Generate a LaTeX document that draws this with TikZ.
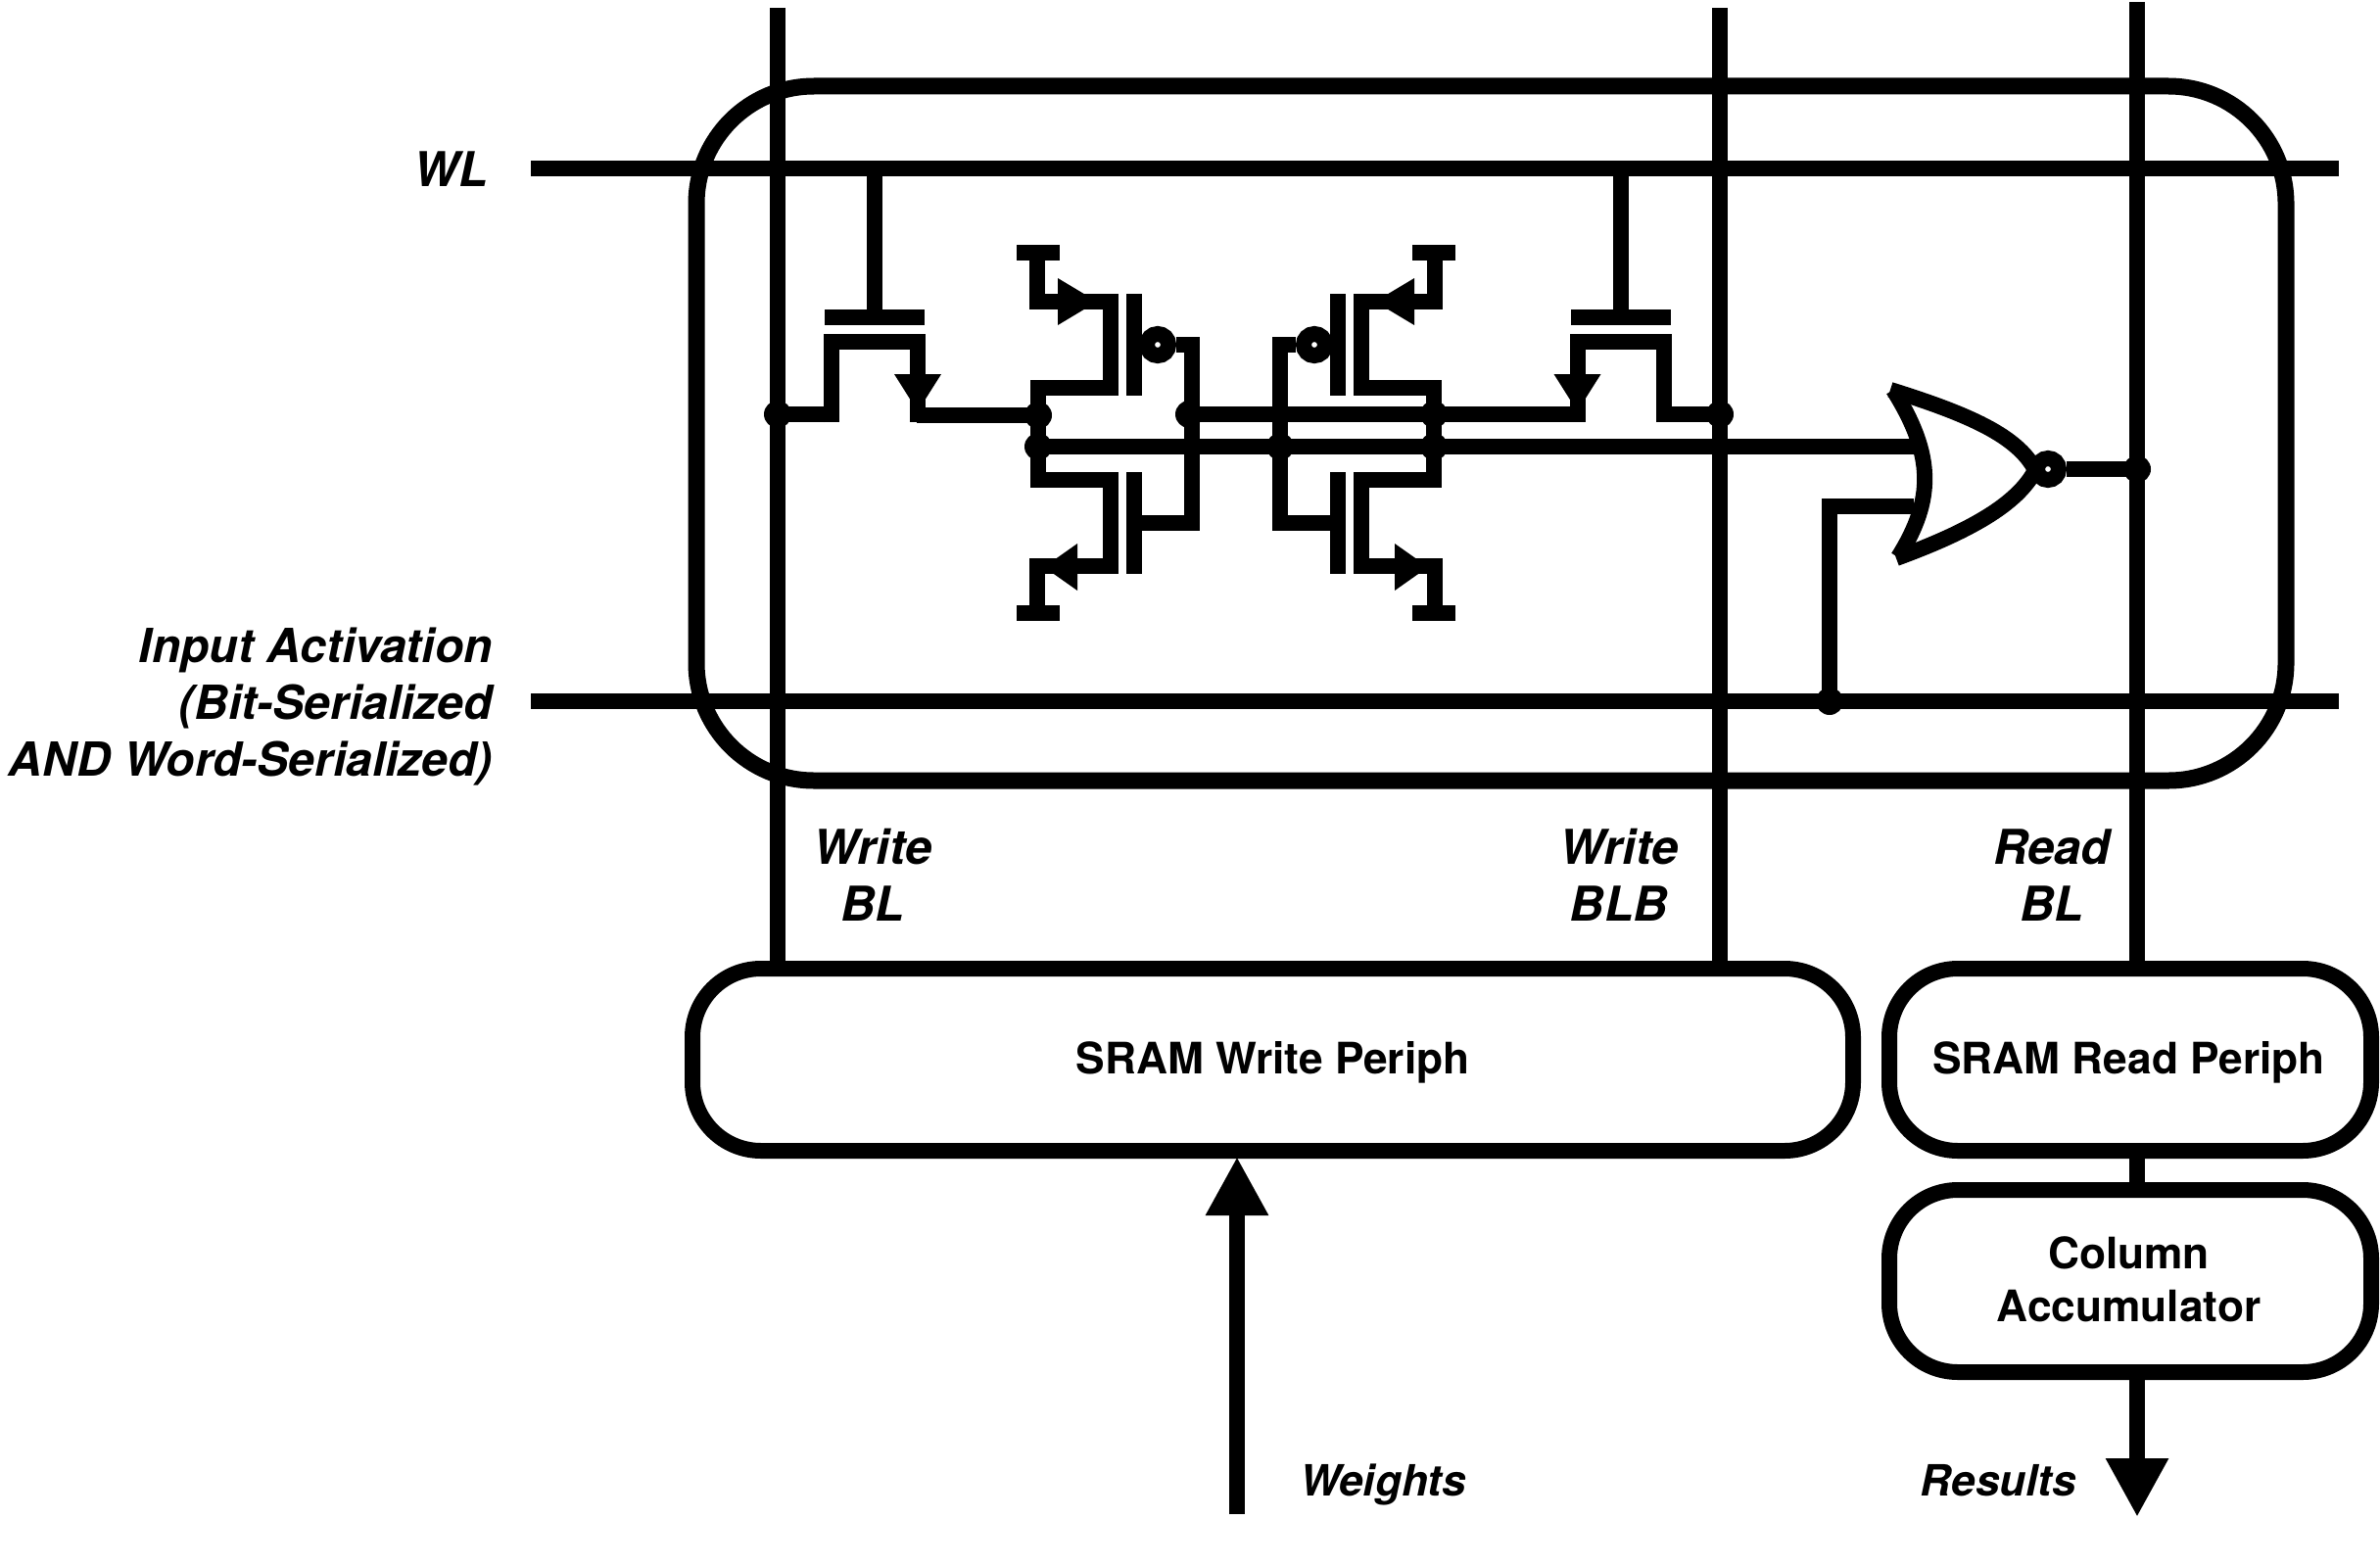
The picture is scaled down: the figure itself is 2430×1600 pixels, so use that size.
\documentclass[tikz,border=0pt]{standalone}
\usepackage{fontspec}
\setmainfont{TeX Gyre Heros}
\usetikzlibrary{arrows.meta}
\tikzset{
	wire/.style={draw, line width=16pt},
	dot/.style={circle, fill, inner sep=0pt, minimum size=28pt},
	bubble/.style={circle, draw, line width=16pt, fill=white, inner sep=0pt, minimum size=22pt},
	periph/.style={draw, line width=16pt, rounded corners=70pt, inner sep=0pt},
	boxtext/.style={inner sep=0pt, align=center, font=\fontsize{44.3}{54}\selectfont\bfseries},
	sig/.style={inner sep=0pt, align=center, font=\fontsize{49}{58}\selectfont\bfseries\itshape},
	iolabel/.style={inner sep=0pt, font=\fontsize{44}{54}\selectfont\bfseries\itshape},
	bighead/.style={-{Triangle[length=60pt, width=60pt]}},
}
\begin{document}
\begin{tikzpicture}[x=1pt, y=-1pt]
	\useasboundingbox (0,0) rectangle (2430,1600);
	\draw[wire, line width=17pt, rounded corners=120pt] (711,88) rectangle (2334,797);
	\node[periph, minimum width=1185pt, minimum height=186pt] (wperiph) at (1299.5,1082) {};
	\node[periph, minimum width=492pt, minimum height=186pt] (rperiph) at (2175,1082) {};
	\node[periph, minimum width=492pt, minimum height=186pt] (accum) at (2175,1308) {};
	\node[boxtext, yshift=-3pt] (wtext) at (wperiph) {SRAM Write Periph};
	\node[boxtext, xshift=-1.5pt, yshift=-3pt] (rtext) at (rperiph) {SRAM Read Periph};
	\node[boxtext, xshift=-1.5pt, yshift=2pt] (atext) at (accum) {Column\\Accumulator};
	\coordinate (wlL) at (542,172);
	\coordinate (wlR) at (2388,172);
	\coordinate (iaL) at (542,716);
	\coordinate (iaR) at (2388,716);
	\coordinate (blT) at (794,8);
	\coordinate (blbT) at (1756,8);
	\coordinate (rblT) at (2182,2);
	\coordinate (wgtB) at (1263,1546);
	\coordinate (resB) at (2182,1549);
	\draw[wire] (wlL) -- (wlR);
	\draw[wire] (iaL) -- (iaR);
	\draw[wire] (blT) -- (blT |- wperiph.north);
	\draw[wire] (blbT) -- (blbT |- wperiph.north);
	\draw[wire] (rblT) -- (rblT |- rperiph.north);
	\draw[wire] (rblT |- rperiph.south) -- (rblT |- accum.north);
	\draw[wire, bighead, shorten >=-2pt] (wgtB) -- (wgtB |- wperiph.south);
	\draw[wire, bighead] (rblT |- accum.south) -- (resB);
	\foreach \cx/\m in {893/1, 1654.5/-1}{
		\begin{scope}[shift={(\cx,0)}, xscale=\m]
			\draw[wire] (0,172) -- (0,324);
			\draw[wire] (-51,324) -- (51,324);
			\draw[wire] (-44,431) -- (-44,349) -- (44,349) -- (44,431);
			\fill (20,382) -- (68,382) -- (44,420) -- cycle;
		\end{scope}
	}
	\foreach \m/\n in {1/l, -1/r}{
		\begin{scope}[shift={(1262,0)}, xscale=\m]
			\draw[wire] (-224,258) -- (-180,258);
			\draw[wire] (-203,258) -- (-203,308) -- (-128,308) -- (-128,396) -- (-202,396) -- (-202,456) -- (-202,490) -- (-128,490) -- (-128,578) -- (-203,578) -- (-203,626);
			\draw[wire] (-224,626) -- (-180,626);
			\fill (-182,284) -- (-142,308) -- (-182,332) -- cycle;
			\fill (-162,555) -- (-196,579) -- (-162,603) -- cycle;
			\draw[wire] (-104,300) -- (-104,404);
			\draw[wire] (-104,482) -- (-104,586);
			\node[bubble] (bub\n) at (-80,352) {};
			\draw[wire] (bub\n) -- (-45,352) -- (-45,534) -- (-104,534);
		\end{scope}
	}
	\node[dot] (qBL) at (794,423) {};
	\node[dot] (qL) at (1060,424) {};
	\node[dot] (qbL) at (1060,456) {};
	\node[dot] (qM) at (1214,423) {};
	\node[dot] (qbM) at (1307,456) {};
	\node[dot] (qR) at (1464,423) {};
	\node[dot] (qbR) at (1464,456) {};
	\node[dot] (qBLB) at (1756,423) {};
	\node[dot] (iaJ) at (1868,716) {};
	\node[dot] (rblJ) at (2182,479) {};
	\draw[wire] (qBL.center) -- (849,423);
	\draw[wire] (936,424) -- (qL.center);
	\draw[wire] (qM.center) -- (qR.center);
	\draw[wire] (qR.center) -- (1611,423);
	\draw[wire] (1698,423) -- (qBLB.center);
	\draw[wire] (qbL.center) -- (1954,456);
	\draw[wire] (iaJ.center) -- (1868,517) -- (1954,517);
	\draw[wire] (1933,398) .. controls (1975,465) and (1975,510) .. (1938,569);
	\draw[wire] (1930,398) .. controls (2010,423) and (2060,445) .. (2078,480);
	\draw[wire] (1936,570) .. controls (2010,543) and (2060,515) .. (2078,480);
	\node[bubble] (bubN) at (2091,479) {};
	\draw[wire] (bubN) -- (rblJ.center);
	\node[sig, anchor=base east] (wl) at (499,190) {WL};
	\node[sig, anchor=east, align=right, font=\fontsize{48}{58}\selectfont\bfseries\itshape] (ia) at (503,721.5) {Input Activation\\(Bit-Serialized\\AND Word-Serialized)};
	\node[sig] (wbl) at (891,893.5) {Write\\BL};
	\node[sig] (wblb) at (1653,893.5) {Write\\BLB};
	\node[sig] (rbl) at (2095,893.5) {Read\\BL};
	\node[iolabel, anchor=base west] (wgt) at (1327,1527) {Weights};
	\node[iolabel, anchor=base east] (res) at (2120,1527) {Results};
\end{tikzpicture}
\end{document}
